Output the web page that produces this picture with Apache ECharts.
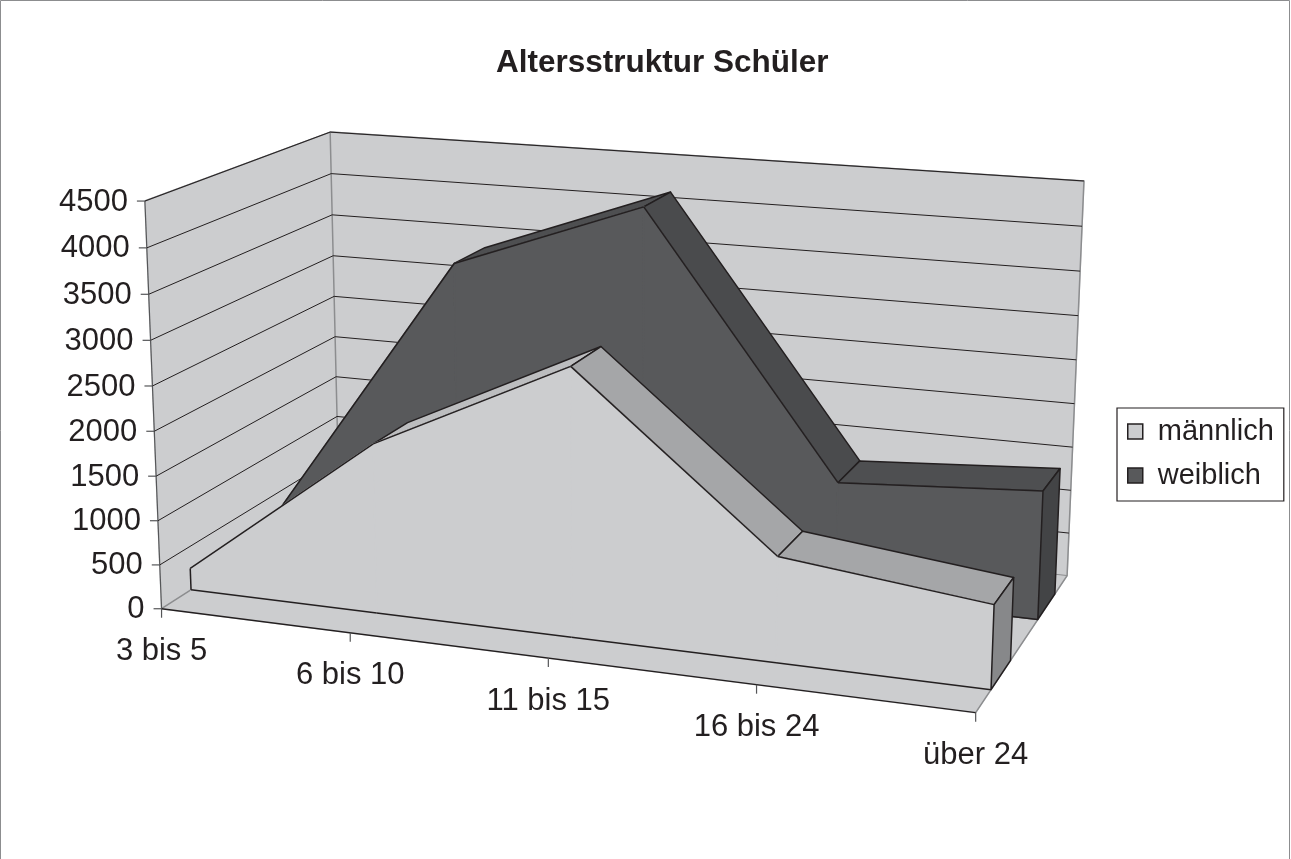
<!DOCTYPE html>
<html>
<head>
<meta charset="utf-8">
<title>Altersstruktur Schüler</title>
<script src="https://cdn.jsdelivr.net/npm/echarts@6/dist/echarts.min.js"></script>
<style>
  html, body { margin: 0; padding: 0; background: #fff; }
  #chart { width: 1291px; height: 859px; }
</style>
</head>
<body>
<div id="chart"></div>
<script>
// Daten
var categories = ['3 bis 5', '6 bis 10', '11 bis 15', '16 bis 24', 'über 24'];
var maleValues = [250, 1900, 2950, 1150, 900];
var femaleValues = [300, 3400, 4200, 1300, 1440];
var valueTicks = [0, 500, 1000, 1500, 2000, 2500, 3000, 3500, 4000, 4500];
var seriesNames = ['männlich', 'weiblich'];

var yMax = 4500;
var fontName = '"Liberation Sans", Arial, sans-serif';
var ink = '#231F20';

// Kamera: Ecken des 3D-Rahmens (x 0..1, y 0..1, tiefe 0..1) -> Bildpunkt
var frameAnchors = [
  [0, 0, 0, 162, 609],
  [0, 1, 0, 145, 200],
  [0, 8 / 9, 0, 147, 248],
  [0.25, 0, 0, 350, 633],
  [0.5, 0, 0, 548, 658],
  [0.75, 0, 0, 757, 685],
  [1, 0, 0, 975, 713],
  [0, 1, 1, 330, 133],
  [0, 8 / 9, 1, 331, 173],
  [0, 7 / 9, 1, 332, 215],
  [1, 1, 1, 1083, 181],
  [1, 8 / 9, 1, 1083, 227],
  [1, 4 / 9, 1, 1075, 403],
  [1, 0, 1, 1067, 575]
];

// Tiefe der Bänder (vorne, hinten)
var maleDepth = [0.15, 0.35];
var femaleDepth = [0.65, 0.85];

function fitCamera(pts) {
  var A = [], b = [];
  for (var i = 0; i < pts.length; i++) {
    var X = pts[i][0], Y = pts[i][1], Z = pts[i][2];
    var u = pts[i][3] / 1000, v = pts[i][4] / 1000;
    A.push([X, Y, Z, 1, 0, 0, 0, 0, -u * X, -u * Y, -u * Z]); b.push(u);
    A.push([0, 0, 0, 0, X, Y, Z, 1, -v * X, -v * Y, -v * Z]); b.push(v);
  }
  var n = 11, M = [];
  for (var r = 0; r < n; r++) {
    var row = [];
    for (var c = 0; c < n; c++) {
      var s = 0;
      for (var k = 0; k < A.length; k++) s += A[k][r] * A[k][c];
      row.push(s);
    }
    var sb = 0;
    for (var k = 0; k < A.length; k++) sb += A[k][r] * b[k];
    row.push(sb);
    M.push(row);
  }
  for (var col = 0; col < n; col++) {
    var piv = col;
    for (var r = col + 1; r < n; r++) if (Math.abs(M[r][col]) > Math.abs(M[piv][col])) piv = r;
    var tmp = M[col]; M[col] = M[piv]; M[piv] = tmp;
    for (var r = 0; r < n; r++) {
      if (r == col) continue;
      var f = M[r][col] / M[col][col];
      for (var c = col; c <= n; c++) M[r][c] -= f * M[col][c];
    }
  }
  var m = [];
  for (var r = 0; r < n; r++) m.push(M[r][n] / M[r][r]);
  return m;
}

var cam = fitCamera(frameAnchors);

function P(x, y, z) {
  var w = cam[8] * x + cam[9] * y + cam[10] * z + 1;
  return [
    (cam[0] * x + cam[1] * y + cam[2] * z + cam[3]) / w * 1000,
    (cam[4] * x + cam[5] * y + cam[6] * z + cam[7]) / w * 1000
  ];
}

function area(pts) {
  var s = 0;
  for (var i = 0; i < pts.length; i++) {
    var a = pts[i], b = pts[(i + 1) % pts.length];
    s += a[0] * b[1] - b[0] * a[1];
  }
  return s / 2;
}

// Pixel der (versteckten) Achsen -> normierte Welt-Koordinate
function toWorld(params, api, idx, val) {
  var p = api.coord([idx, val]);
  var cs = params.coordSys;
  return [(p[0] - cs.x) / cs.width, (cs.y + cs.height - p[1]) / cs.height];
}

function poly(points, fill, stroke, z2) {
  return {
    type: 'polygon', z2: z2,
    shape: { points: points },
    style: { fill: fill, stroke: stroke || fill, lineWidth: 1.5, lineJoin: 'round' }
  };
}

function line(points, color, width, z2) {
  return {
    type: 'polyline', z2: z2,
    shape: { points: points },
    style: { fill: null, stroke: color, lineWidth: width, lineJoin: 'round' }
  };
}

function renderWalls(params, api) {
  var a = toWorld(params, api, 0, 0);
  var b = toWorld(params, api, categories.length - 1, yMax);
  var x0 = a[0], y0 = a[1], x1 = b[0], y1 = b[1];
  var wall = '#CCCDCF', edge = '#8C8D8F';
  return {
    type: 'group',
    children: [
      poly([P(x0, y0, 0), P(x0, y1, 0), P(x0, y1, 1), P(x0, y0, 1)], wall, null, 1),
      poly([P(x0, y0, 1), P(x1, y0, 1), P(x1, y1, 1), P(x0, y1, 1)], wall, null, 1),
      poly([P(x0, y0, 0), P(x1, y0, 0), P(x1, y0, 1), P(x0, y0, 1)], wall, null, 1),
      line([P(x0, y1, 0), P(x0, y1, 1), P(x1, y1, 1), P(x1, y0, 1), P(x1, y0, 0)], edge, 1.5, 2),
      line([P(x0, y0, 0), P(x0, y0, 1), P(x0, y1, 1)], edge, 1.5, 2),
      line([P(x0, y0, 1), P(x1, y0, 1)], edge, 1, 2),
      line([P(x0, y0, 0), P(x0, y1, 0)], '#555658', 1.2, 3),
      line([P(x0, y0, 0), P(x1, y0, 0)], ink, 1.3, 3)
    ]
  };
}

function renderValueTick(params, api) {
  var w = toWorld(params, api, 0, api.value(1));
  var x1 = toWorld(params, api, categories.length - 1, 0)[0];
  var y = w[1];
  var front = P(w[0], y, 0);
  var children = [];
  if (api.value(1) > 0) {
    children.push(line([front, P(w[0], y, 1), P(x1, y, 1)], ink, 1, 1));
  }
  children.push(line([[front[0] - 8, front[1]], front], '#555658', 1.2, 2));
  children.push({
    type: 'text', z2: 3,
    style: {
      text: String(api.value(1)), x: front[0] - 17, y: front[1] + 1,
      align: 'right', verticalAlign: 'middle',
      fontSize: 31, fontFamily: fontName, fill: ink
    }
  });
  return { type: 'group', children: children };
}

function renderCategory(params, api) {
  var w = toWorld(params, api, api.value(0), 0);
  var p = P(w[0], 0, 0);
  return {
    type: 'group',
    children: [
      line([p, [p[0], p[1] + 9]], '#555658', 1.2, 1),
      {
        type: 'text', z2: 2,
        style: {
          text: categories[params.dataIndex], x: p[0], y: p[1] + 43,
          align: 'center', verticalAlign: 'middle',
          fontSize: 31, fontFamily: fontName, fill: ink
        }
      }
    ]
  };
}

// Band (3D-Fläche) fuer eine Reihe
function makeRibbon(depth, colors) {
  var z0 = depth[0], z1 = depth[1];
  var refTop = area([P(0, 0, z0), P(1, 0, z0), P(1, 0, z1), P(0, 0, z1)]);
  var refSide = area([P(0, 0, 0), P(0, 1, 0), P(0, 1, 1), P(0, 0, 1)]);
  return function (params, api) {
    var i = params.dataIndex;
    var n = categories.length;
    var a = toWorld(params, api, i, api.value(1));
    var x0 = a[0], y0 = a[1];
    var F0 = P(x0, y0, z0), B0 = P(x0, y0, z1), G0 = P(x0, 0, z0), H0 = P(x0, 0, z1);
    var children = [];
    if (i == 0) {
      children.push(line([G0, F0], ink, 1.5, 4));
    }
    if (i < n - 1) {
      var b = toWorld(params, api, i + 1, api.value(2));
      var x1 = b[0], y1 = b[1];
      var F1 = P(x1, y1, z0), B1 = P(x1, y1, z1), G1 = P(x1, 0, z0);
      var top = [F0, F1, B1, B0];
      if (area(top) * refTop > 0) {
        children.push(poly(top, y1 > y0 ? colors.topUp : colors.topDown, ink, 1));
      }
      children.push(poly([G0, F0, F1, G1], colors.front, null, 2));
      children.push(line([F0, F1], ink, 1.5, 3));
      children.push(line([G0, G1], ink, 1.5, 3));
    } else {
      var cap = [G0, F0, B0, H0];
      if (area(cap) * refSide > 0) {
        children.push(poly(cap, colors.cap, ink, 5));
      }
    }
    return { type: 'group', children: children };
  };
}

function ribbonData(values) {
  var out = [];
  for (var i = 0; i < values.length; i++) {
    out.push([i, values[i], i < values.length - 1 ? values[i + 1] : values[i]]);
  }
  return out;
}

var tickData = [];
for (var i = 0; i < valueTicks.length; i++) tickData.push([0, valueTicks[i]]);
var catData = [];
for (var i = 0; i < categories.length; i++) catData.push([i, 0]);

var maleColors = { front: '#CCCDCF', topUp: '#BCBDBF', topDown: '#A5A6A8', cap: '#87888A' };
var femaleColors = { front: '#58595B', topUp: '#4E4F51', topDown: '#4A4B4D', cap: '#434446' };

var myChart = echarts.init(document.getElementById('chart'));
var option = {
  animation: false,
  backgroundColor: '#ffffff',
  title: {
    text: 'Altersstruktur Schüler',
    left: 491, top: 42,
    textStyle: { fontSize: 31.5, fontWeight: 'bold', fontFamily: fontName, color: ink }
  },
  legend: {
    orient: 'vertical',
    left: 1117, top: 408,
    padding: [9, 10, 11, 10],
    itemWidth: 15, itemHeight: 15, itemGap: 15,
    borderColor: ink, borderWidth: 1.2,
    selectedMode: false,
    itemStyle: { borderColor: ink, borderWidth: 1.5 },
    textStyle: { fontSize: 29, fontFamily: fontName, color: ink, padding: [0, 0, 0, 10] },
    data: [{ name: seriesNames[0], icon: 'rect' }, { name: seriesNames[1], icon: 'rect' }]
  },
  graphic: [{
    type: 'rect', silent: true,
    shape: { x: 0.5, y: 0.5, width: 1289, height: 870 },
    style: { fill: null, stroke: '#8C8D8F', lineWidth: 1 }
  }],
  // versteckte Achsen liefern die Skalen
  grid: { left: 200, top: 200, width: 400, height: 400, show: false },
  xAxis: { type: 'category', data: categories, boundaryGap: false, show: false },
  yAxis: { type: 'value', min: 0, max: yMax, interval: 500, show: false },
  series: [
    { type: 'custom', name: 'walls', z: 1, silent: true, data: [[0, 0]], renderItem: renderWalls },
    { type: 'custom', name: 'ticks', z: 2, silent: true, data: tickData, renderItem: renderValueTick },
    {
      type: 'custom', name: seriesNames[1], z: 3, data: ribbonData(femaleValues),
      encode: { x: 0, y: 1 }, itemStyle: { color: femaleColors.front },
      renderItem: makeRibbon(femaleDepth, femaleColors)
    },
    {
      type: 'custom', name: seriesNames[0], z: 4, data: ribbonData(maleValues),
      encode: { x: 0, y: 1 }, itemStyle: { color: maleColors.front },
      renderItem: makeRibbon(maleDepth, maleColors)
    },
    { type: 'custom', name: 'cats', z: 5, silent: true, data: catData, renderItem: renderCategory }
  ]
};
myChart.setOption(option);
</script>
</body>
</html>
